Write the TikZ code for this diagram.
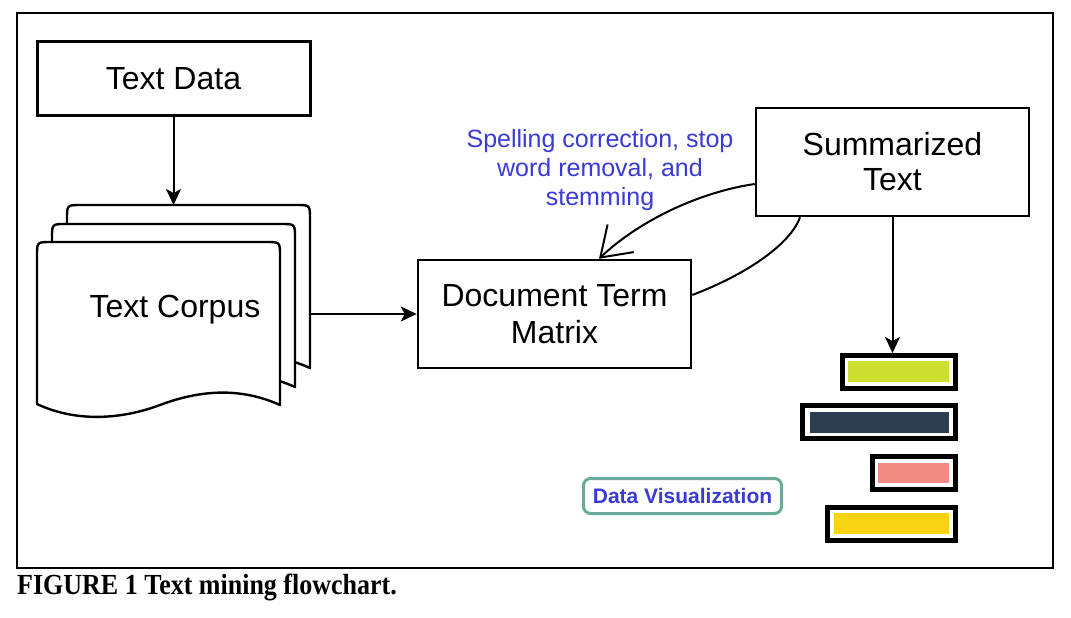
\documentclass[tikz,border=0pt]{standalone}
\usepackage{fontspec}
\setmainfont{Liberation Sans}
\newfontfamily\capfont{Liberation Serif}
\usetikzlibrary{arrows.meta,calc}
\definecolor{lblblue}{RGB}{58,58,214}
\definecolor{dvteal}{RGB}{106,170,154}
\definecolor{barA}{RGB}{205,224,50}
\definecolor{barB}{RGB}{44,62,80}
\definecolor{barC}{RGB}{240,140,132}
\definecolor{barD}{RGB}{250,212,20}
\tikzset{
  bigtext/.style={font=\fontsize{32}{37}\selectfont, align=center},
  procbox/.style={draw=black, line width=2.5pt, fill=white, inner sep=0pt,
    minimum width=273pt, bigtext},
  arr/.style={line width=2pt, -{Stealth[length=16pt,width=15pt,inset=4pt]}},
  pagestyle/.style={draw=black, fill=white, line width=2.4pt, line join=round},
  barframe/.style={draw=black, line width=5pt, fill=white, inner sep=0pt, minimum height=33pt},
}
\newcommand\docpage[2]{%
  \filldraw[pagestyle, shift={(#1,#2)}]
    (37,404) -- (37,256) .. controls (37,242) .. (51,242) -- (266,242)
    .. controls (280,242) .. (280,256) -- (280,405)
    .. controls (240,387) and (200,390) .. (160,405)
    .. controls (120,420) and (75,422) .. (37,404) -- cycle;}
\begin{document}
\begin{tikzpicture}[x=1pt, y=-1pt]
\useasboundingbox (0,0) rectangle (1071,618);
\fill[white] (0,0) rectangle (1071,618);
% outer frame
\draw[line width=1.5pt] (17,13) rectangle (1053,568);

% Text Data
\node[procbox, minimum height=73pt, line width=3pt] (data) at (173.5,78.5) {Text Data};

% Text Corpus (stacked documents)
\docpage{30}{-37}
\docpage{15}{-18}
\docpage{0}{0}
\node[bigtext, inner sep=0pt] (corpus) at (175,310) {Text Corpus};
\coordinate (corpustop) at (173.5,205);
\coordinate (corpusright) at (310,314);

% Document Term Matrix
\node[procbox, minimum height=108pt] (dtm) at (554.5,314) {Document Term\\Matrix};

% Summarized Text
\node[procbox, minimum height=108pt] (sum) at (892.5,162) {Summarized\\[-2pt]Text};

% label
\node[text=lblblue, align=center, font=\fontsize{25}{29}\selectfont, inner sep=0pt]
  (lbl) at (600,170) {Spelling correction, stop\\word removal, and\\stemming};

% connectors
\draw[arr] (data.south) -- (corpustop);
\draw[arr] (corpusright) -- (dtm.west);
\draw[line width=2pt, -{Straight Barb[length=28pt,width=38pt,line width=2pt]}]
  ([yshift=-22pt]sum.west) .. controls (700,192) and (640,220) .. ([xshift=44.5pt]dtm.north);
\draw[line width=2pt]
  ([yshift=19pt]dtm.east) .. controls (745,275) and (790,245) .. ([xshift=-92.5pt]sum.south);

% bars
\node[barframe, minimum width=113pt] (bar1) at (899,372) {};
\fill[barA] (848,361) rectangle (949,382);
\node[barframe, minimum width=153pt] (bar2) at (879,422) {};
\fill[barB] (810,412) rectangle (949,433);
\node[barframe, minimum width=83pt] (bar3) at (914,473) {};
\fill[barC] (878,463) rectangle (949,483);
\node[barframe, minimum width=128pt] (bar4) at (891.5,524) {};
\fill[barD] (834,513) rectangle (949,534);

\draw[arr] (sum.south) -- (sum.south |- bar1.north);

% Data Visualization
\node[draw=dvteal, line width=3pt, rounded corners=7pt, minimum width=198pt,
  minimum height=35pt, inner sep=0pt, text=lblblue,
  font=\bfseries\fontsize{21}{25}\selectfont] (dv) at (682.5,496) {Data Visualization};

% caption
\node[anchor=base west, inner sep=0pt] (cap) at (17,594)
  {\scalebox{1}[1.12]{\capfont\bfseries\fontsize{26}{30}\selectfont FIGURE 1 Text mining flowchart.}};
\end{tikzpicture}
\end{document}
